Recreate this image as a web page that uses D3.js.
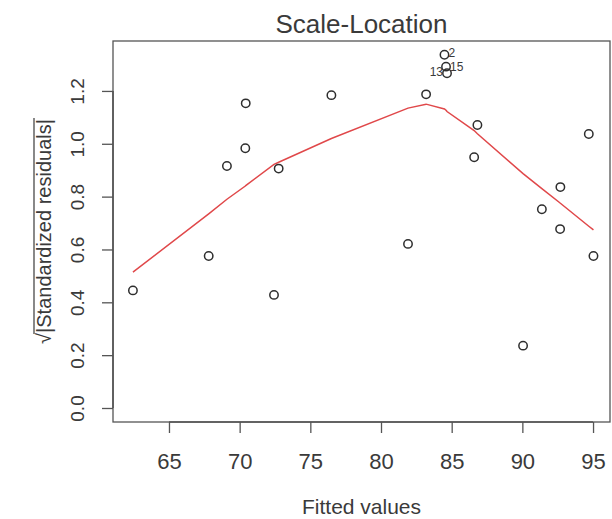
<!DOCTYPE html>
<html>
<head>
<meta charset="utf-8">
<script src="https://cdn.jsdelivr.net/npm/d3@7"></script>
<style>
  html, body { margin: 0; padding: 0; background: #ffffff; }
  svg { display: block; font-family: "Liberation Sans", Arial, Helvetica, sans-serif; }
</style>
</head>
<body>
<svg id="chart" width="612" height="519"></svg>
<script>
// Fitted values (x) and sqrt(|standardized residuals|) (y) for each observation
const fitted = [62.45, 67.81, 69.10, 70.40, 70.43, 72.43, 72.76, 76.49, 81.91, 83.19,
                84.49, 84.60, 84.67, 86.59, 86.82, 90.05, 91.38, 92.67, 92.69, 94.70, 95.03];
const sqrtStdResid = [0.445, 0.575, 0.916, 0.983, 1.153, 0.428, 0.906, 1.184, 0.621, 1.187,
                      1.337, 1.292, 1.267, 0.949, 1.071, 0.236, 0.752, 0.677, 0.836, 1.037, 0.575];
// Smoother evaluated at each fitted value
const smooth = [0.514, 0.735, 0.790, 0.840, 0.842, 0.922, 0.930, 1.020, 1.135, 1.150,
                1.132, 1.127, 1.122, 1.050, 1.038, 0.887, 0.830, 0.776, 0.775, 0.688, 0.674];
// Labelled observations: index into the arrays, id text, side of the label
const idIndex = [10, 11, 12];
const idLabels = ["2", "15", "13"];
const idSide = ["right", "right", "left"];

const xTicks = [65, 70, 75, 80, 85, 90, 95];
const yTicks = [0.0, 0.2, 0.4, 0.6, 0.8, 1.0, 1.2];

const title = "Scale-Location";
const xTitle = "Fitted values";

const svg = d3.select("#chart");
const textCol = "#3a3a3a";
const box = { left: 113, right: 610, top: 41, bottom: 422 };

const x = d3.scaleLinear().domain([61.04, 96.2]).range([box.left, box.right]);
const y = d3.scaleLinear().domain([-0.053, 1.389]).range([box.bottom, box.top]);

// plot frame
svg.append("rect")
  .attr("x", box.left).attr("y", box.top)
  .attr("width", box.right - box.left).attr("height", box.bottom - box.top)
  .attr("fill", "none").attr("stroke", "#555").attr("stroke-width", 1.3);

// x axis
const xAxis = svg.append("g")
  .attr("transform", `translate(0,${box.bottom})`)
  .call(d3.axisBottom(x).tickValues(xTicks).tickSize(11).tickPadding(20)
        .tickFormat(d3.format("d")));
xAxis.select(".domain").remove();
xAxis.append("line")
  .attr("x1", x(xTicks[0])).attr("x2", x(xTicks[xTicks.length - 1]))
  .attr("stroke", "#555").attr("stroke-width", 1.6);
xAxis.selectAll(".tick line").attr("stroke", "#555").attr("stroke-width", 1.3);
xAxis.selectAll(".tick text")
  .attr("fill", textCol).style("font-size", "22px")
  .attr("font-family", "Liberation Sans, Arial, sans-serif");

// y axis (labels rotated, parallel to the axis)
const yAxis = svg.append("g")
  .attr("transform", `translate(${box.left},0)`)
  .call(d3.axisLeft(y).tickValues(yTicks).tickSize(11).tickFormat(d3.format(".1f")));
yAxis.select(".domain").remove();
yAxis.append("line")
  .attr("y1", y(yTicks[0])).attr("y2", y(yTicks[yTicks.length - 1]))
  .attr("stroke", "#555").attr("stroke-width", 1.6);
yAxis.selectAll(".tick line").attr("stroke", "#555").attr("stroke-width", 1.3);
yAxis.selectAll(".tick text")
  .attr("x", null).attr("dy", null)
  .attr("transform", "translate(-29,0) rotate(-90)")
  .attr("text-anchor", "middle")
  .attr("fill", textCol).style("font-size", "19px")
  .attr("font-family", "Liberation Sans, Arial, sans-serif");

// title
svg.append("text")
  .attr("x", (box.left + box.right) / 2).attr("y", 33)
  .attr("text-anchor", "middle").attr("fill", textCol)
  .style("font-size", "26px").text(title);

// x axis title
svg.append("text")
  .attr("x", (box.left + box.right) / 2).attr("y", 514)
  .attr("text-anchor", "middle").attr("fill", textCol)
  .style("font-size", "21px").text(xTitle);

// y axis title: sqrt sign with a bar over |Standardized residuals|
const yt = svg.append("g")
  .attr("transform", `translate(51,${(box.top + box.bottom) / 2}) rotate(-90)`);
const ytText = yt.append("text")
  .attr("text-anchor", "middle").attr("fill", textCol).style("font-size", "20px");
const rootPart = ytText.append("tspan").text("\u221A");
ytText.append("tspan").text("|Standardized residuals|");
const total = ytText.node().getComputedTextLength();
const rootLen = rootPart.node().getComputedTextLength();
yt.append("line")
  .attr("x1", -total / 2 + rootLen - 1).attr("x2", total / 2 + 1)
  .attr("y1", -17).attr("y2", -17)
  .attr("stroke", textCol).attr("stroke-width", 1.2);

// smoother
const pts = fitted.map((f, i) => ({ f, r: sqrtStdResid[i], s: smooth[i] }));
svg.append("path")
  .datum(pts)
  .attr("fill", "none").attr("stroke", "#e0484a").attr("stroke-width", 1.5)
  .attr("d", d3.line().x(d => x(d.f)).y(d => y(d.s)));

// observations
svg.append("g").selectAll("circle")
  .data(pts).join("circle")
  .attr("cx", d => x(d.f)).attr("cy", d => y(d.r)).attr("r", 4.2)
  .attr("fill", "none").attr("stroke", "#2e2e2e").attr("stroke-width", 1.5);

// id labels, nudged apart where they crowd each other
const idNudge = [-1.5, 0.6, -1.5];
svg.append("g").selectAll("text")
  .data(idIndex).join("text")
  .attr("x", (d, k) => x(fitted[d]) + (idSide[k] === "right" ? 4 : -4))
  .attr("y", (d, k) => y(sqrtStdResid[d]) + idNudge[k])
  .attr("dominant-baseline", "central")
  .attr("text-anchor", (d, k) => idSide[k] === "right" ? "start" : "end")
  .attr("fill", textCol).style("font-size", "12px")
  .text((d, k) => idLabels[k]);
</script>
</body>
</html>
